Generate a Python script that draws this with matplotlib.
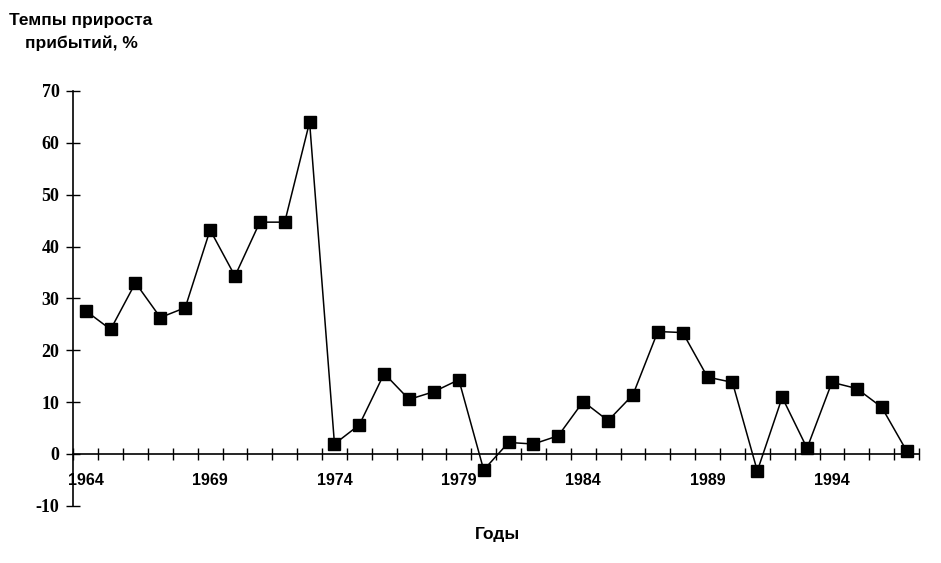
import matplotlib
matplotlib.use("Agg")
import matplotlib.pyplot as plt
import numpy as np

years = list(range(1964, 1998))
values = [27.6, 24.0, 33.0, 26.3, 28.2, 43.2, 34.3, 44.7, 44.7, 64.0,
          1.9, 5.6, 15.5, 10.5, 12.0, 14.3, -3.1, 2.2, 1.9, 3.5,
          10.1, 6.4, 11.4, 23.6, 23.4, 14.8, 13.8, -3.3, 10.9, 1.1,
          13.8, 12.6, 9.0, 0.6]
label_years = [1964, 1969, 1974, 1979, 1984, 1989, 1994]
y_ticks = [-10, 0, 10, 20, 30, 40, 50, 60, 70]

fig = plt.figure(figsize=(9.41, 5.63), dpi=100)
ax = fig.add_axes([73.3/941, 1-505.7/563, (919-73.3)/941, (505.7-91)/563])

x = np.arange(len(years))
ax.plot(x, values, color='black', linewidth=1.1, marker='s', markersize=8,
        markerfacecolor='black', markeredgecolor='black')

ax.set_xlim(-0.5, len(years) - 0.5)
ax.set_ylim(-10, 70)

ax.spines['top'].set_visible(False)
ax.spines['right'].set_visible(False)
ax.spines['bottom'].set_position(('data', 0))
ax.spines['left'].set_linewidth(1.2)
ax.spines['bottom'].set_linewidth(1.2)

# x ticks at category boundaries
ax.set_xticks(np.arange(len(years) + 1) - 0.5)
ax.set_xticklabels([])
ax.tick_params(axis='x', which='major', direction='inout', length=9, width=1.0)
# labels at category centers
idx = [years.index(y) for y in label_years]
ax.set_xticks(idx, [str(y) for y in label_years], minor=True)
ax.tick_params(axis='x', which='minor', length=0, pad=14)
for lbl in ax.get_xticklabels(minor=True):
    lbl.set_fontfamily('Liberation Sans')
    lbl.set_fontweight('bold')
    lbl.set_fontsize(11.5)

ax.set_yticks(y_ticks)
ax.set_yticklabels([str(v) for v in y_ticks])
ax.tick_params(axis='y', direction='inout', length=10, width=1.0, pad=5)
for lbl in ax.get_yticklabels():
    lbl.set_fontfamily('Liberation Serif')
    lbl.set_fontweight('bold')
    lbl.set_fontsize(13)

fig.text(81/941, 1-21/563, 'Темпы прироста', ha='center', va='center',
         fontfamily='Liberation Sans', fontweight='bold', fontsize=12.5)
fig.text(81/941, 1-43/563, 'прибытий, %', ha='center', va='center',
         fontfamily='Liberation Sans', fontweight='bold', fontsize=12.5)
fig.text(498/941, 1-534/563, 'Годы', ha='center', va='center',
         fontfamily='Liberation Sans', fontweight='bold', fontsize=12.5)

fig.savefig('out.png', dpi=100)
